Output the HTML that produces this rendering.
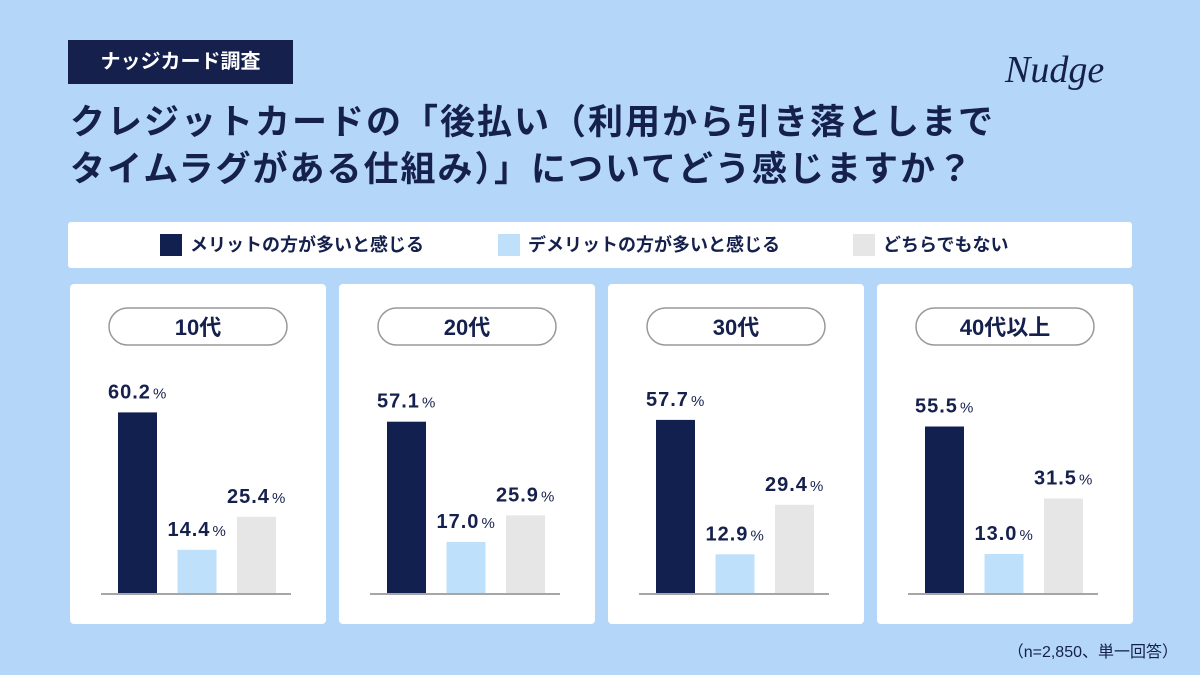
<!DOCTYPE html>
<html><head><meta charset="utf-8"><style>
body{margin:0;width:1200px;height:675px;background:#b4d6f8;font-family:"Liberation Sans","Noto Sans CJK JP",sans-serif;position:relative;overflow:hidden;color:#15204d}
.tag{position:absolute;left:68px;top:40px;width:225px;height:44px;background:#15204d;color:#fff;font-size:20px;font-weight:bold;line-height:44px;text-align:center}
.title{position:absolute;left:70px;top:99px;font-size:35px;font-weight:bold;line-height:47px;letter-spacing:2px}
.legend{position:absolute;left:68px;top:222px;width:1064px;height:46px;background:#fff;border-radius:3px}
.li{position:absolute;top:12px;font-size:18px;font-weight:bold;line-height:22px}
.li span{display:inline-block;width:22px;height:22px;vertical-align:top;margin-right:8px}
.note{position:absolute;right:22px;top:638px;font-size:16px}
</style></head><body>
<div class="tag">ナッジカード調査</div>
<div class="title">クレジットカードの「後払い（利用から引き落としまで<br>タイムラグがある仕組み）」についてどう感じますか？</div>
<svg style="position:absolute;left:1000px;top:40px" width="130" height="60"><text x="5" y="42" font-size="38" font-style="italic" font-family="Liberation Serif,serif" fill="#15204d">Nudge</text></svg>
<div class="legend">
<div class="li" style="left:92px"><span style="background:#12204f"></span>メリットの方が多いと感じる</div>
<div class="li" style="left:430px"><span style="background:#bfe0fb"></span>デメリットの方が多いと感じる</div>
<div class="li" style="left:785px"><span style="background:#e6e6e6"></span>どちらでもない</div>
</div>
<svg id="chart" style="position:absolute;left:0;top:0" width="1200" height="675"></svg>
<div class="note">（n=2,850、単一回答）</div>
<script>
const groups=["10代","20代","30代","40代以上"];
const merit=[60.2,57.1,57.7,55.5];
const demerit=[14.4,17.0,12.9,13.0];
const neither=[25.4,25.9,29.4,31.5];
const series=[merit,demerit,neither];
const colors=["#12204f","#bfe0fb","#e6e6e6"];
const NS="http://www.w3.org/2000/svg";
const svg=document.getElementById('chart');
const baseY=593, scale=3.0;
const y=v=>baseY-v*scale;
function mk(t,a){const e=document.createElementNS(NS,t);for(const k in a)e.setAttribute(k,a[k]);svg.appendChild(e);return e;}
groups.forEach((g,i)=>{
  const px=70+i*269;
  const p=mk('rect',{x:px,y:284,width:256,height:340,rx:4,fill:'#fff'});
  
  
  const pill=mk('rect',{x:px+39,y:308,width:178,height:37,rx:18.5,fill:'#fff',stroke:'#999','stroke-width':1.5});
  
  
  const gt=mk('text',{x:px+128,y:335,'text-anchor':'middle','font-size':22,'font-weight':'bold',fill:'#15204d'});
  gt.textContent=g;
  
  
  series.forEach((s,j)=>{
    const bx=px+48+j*59.5;
    const r=mk('rect',{x:bx,y:y(s[i]),width:39,height:baseY-y(s[i]),fill:colors[j]});
    
    
    const t=mk('text',{x:bx-10,y:y(s[i])-14,'font-size':20,'font-weight':'bold','letter-spacing':1,fill:'#15204d'});
    t.innerHTML=s[i].toFixed(1)+'<tspan font-size="15" font-weight="normal" dx="2">%</tspan>';
    
    
  });
  const l=mk('line',{x1:px+31,x2:px+221,y1:baseY+1,y2:baseY+1,stroke:'#888','stroke-width':1.5});
  
  
});
</script>
</body></html>
